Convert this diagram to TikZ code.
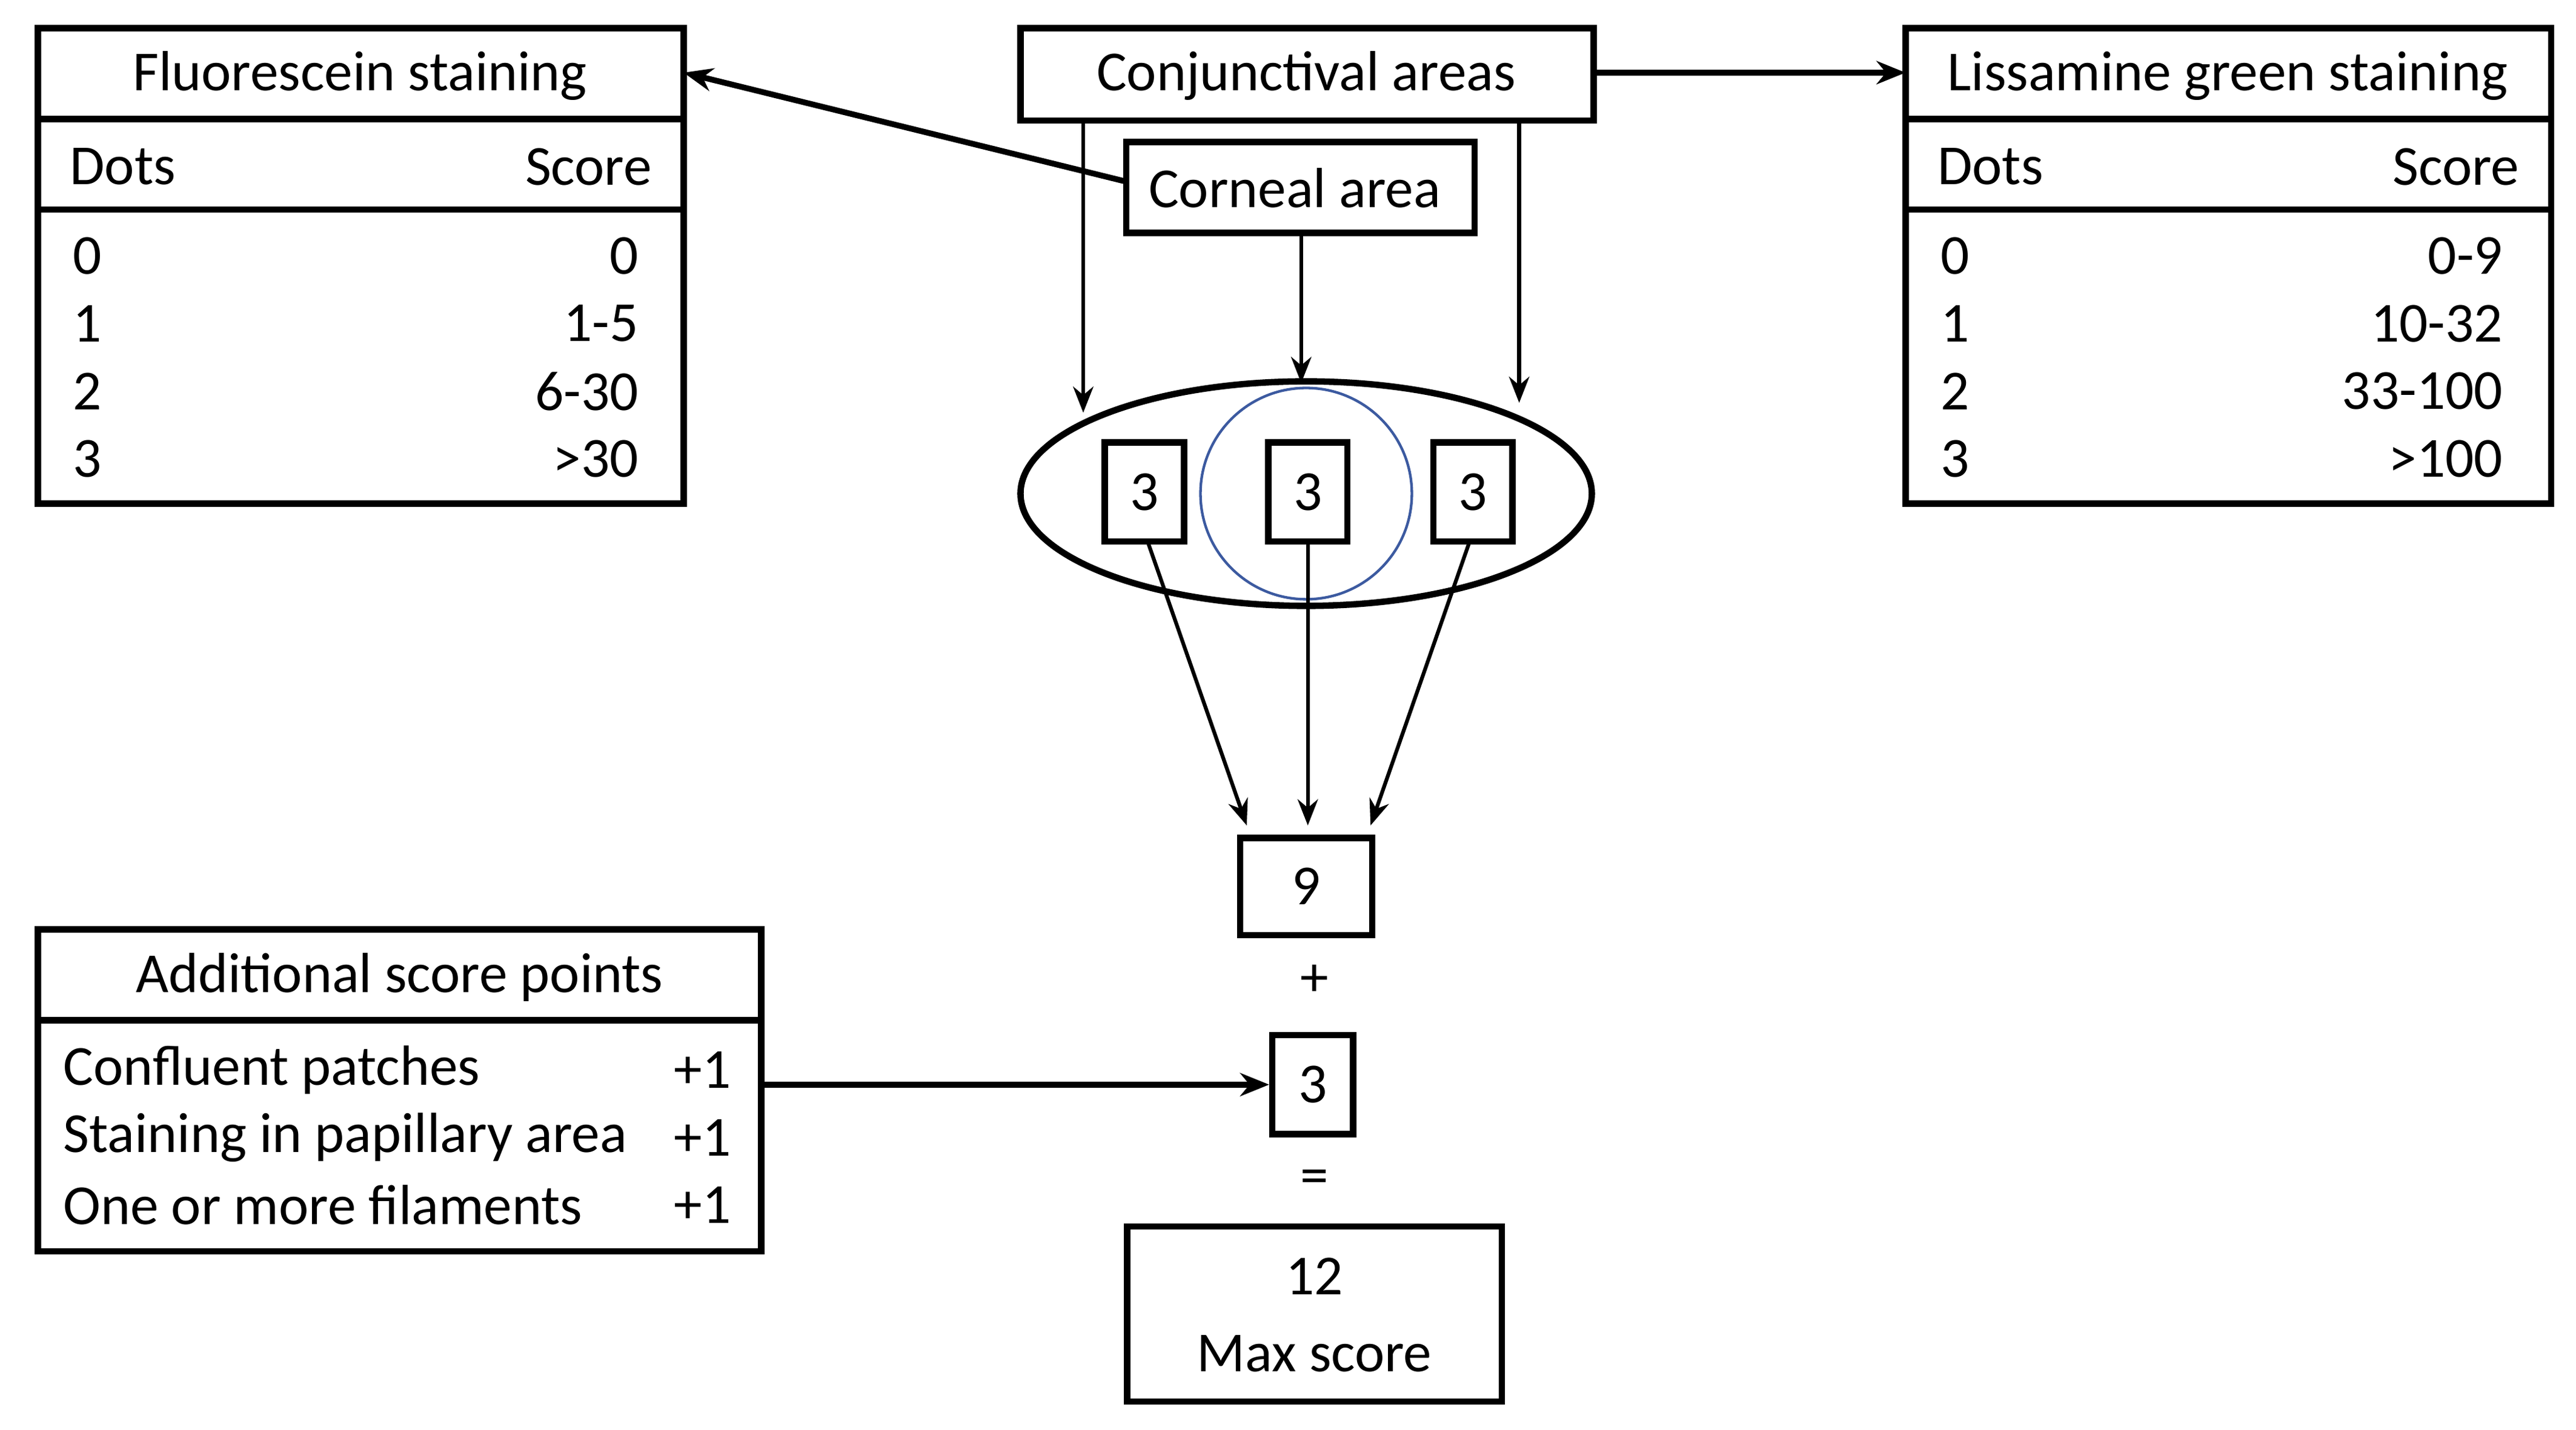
\documentclass[tikz,border=0pt]{standalone}
\usepackage{fontspec}
\setmainfont{Carlito}
\usetikzlibrary{arrows.meta}
\begin{document}
\begin{tikzpicture}[x=0.02cm,y=-0.02cm,
  box/.style={draw,line width=2.2pt},
  t/.style={font=\fontsize{19.5}{22}\selectfont,inner sep=0pt},
  arr/.style={line width=1.3pt,-{Stealth[length=9pt,width=7pt]}},
  arrt/.style={line width=2pt,-{Stealth[length=10pt,width=8pt]}}]
\useasboundingbox (0,0) rectangle (1560,866);
% Fluorescein table
\draw[box] (23,17) rectangle (414,305);
\draw[box] (23,72) -- (414,72) (23,127) -- (414,127);
\coordinate (fl) at (414,44);
\node[t] (fh) at (218,46) {Fluorescein staining};
\node[t,anchor=west] (fd) at (42,101) {Dots};
\node[t,anchor=east] (fs) at (395,101) {Score};
\foreach \d/\s/\y in {0/0/155,1/1-5/196,2/6-30/237,3/>30/278}{
  \node[t,anchor=west] at (44,\y) {\d};
  \node[t,anchor=east] at (387,\y) {\s};}
% Lissamine table
\draw[box] (1154,17) rectangle (1545,305);
\draw[box] (1154,72) -- (1545,72) (1154,127) -- (1545,127);
\coordinate (ll) at (1154,44);
\node[t] (lh) at (1349,46) {Lissamine green staining};
\node[t,anchor=west] at (1173,101) {Dots};
\node[t,anchor=east] at (1526,101) {Score};
\foreach \d/\s/\y in {0/0-9/155,1/10-32/196,2/33-100/237,3/>100/278}{
  \node[t,anchor=west] at (1175,\y) {\d};
  \node[t,anchor=east] at (1516,\y) {\s};}
% Conjunctival, corneal
\draw[box] (618,17) rectangle (965,73);
\node[t] (ca) at (791,46) {Conjunctival areas};
\draw[box,fill=white] (682,86) rectangle (893,141);
\node[t] (co) at (784,114) {Corneal area};
\coordinate (caR) at (965,44);
\coordinate (coL) at (682,110);
% ellipse
\draw[line width=2.2pt] (791,299) ellipse (173 and 68);
\draw[color={rgb,255:red,60;green,90;blue,160},line width=0.9pt] (791,299) circle (64);
\node[t,box,minimum width=0.96cm,minimum height=1.2cm] (b1) at (693,298) {3};
\node[t,box,minimum width=0.96cm,minimum height=1.2cm] (b2) at (792,298) {3};
\node[t,box,minimum width=0.96cm,minimum height=1.2cm] (b3) at (892,298) {3};
% arrows top
\coordinate (cl1) at (656,73); \coordinate (cl2) at (656,250);
\coordinate (cr1) at (920,73); \coordinate (cr2) at (920,244);
\coordinate (co1) at (788,141); \coordinate (co2) at (788,232);
\draw[arr] (cl1) -- (cl2);
\draw[arr] (cr1) -- (cr2);
\draw[arr] (co1) -- (co2);
\draw[arrt] (coL) -- (fl);
\draw[arrt] (caR) -- (ll);
% 9 box
\node[t,box,minimum width=1.6cm,minimum height=1.18cm] (n9) at (791,537) {9};
\coordinate (a1) at (695,328); \coordinate (a1e) at (755,500);
\coordinate (a2) at (792,328); \coordinate (a2e) at (792,500);
\coordinate (a3) at (890,328); \coordinate (a3e) at (830,500);
\draw[arr] (a1) -- (a1e);
\draw[arr] (a2) -- (a2e);
\draw[arr] (a3) -- (a3e);
\node[t] (plus) at (796,594) {+};
\node[t,box,minimum width=0.98cm,minimum height=1.2cm] (n3) at (795,657) {3};
\node[t] (eq) at (796,716) {=};
\node[box,minimum width=4.54cm,minimum height=2.12cm] (mx) at (796,796) {};
\node[t] (m12) at (796,773) {12};
\node[t] (mms) at (796,820) {Max score};
% additional
\draw[box] (23,563) rectangle (461,758);
\draw[box] (23,618) -- (461,618);
\node[t] (ah) at (242,592) {Additional score points};
\foreach \s/\y in {Confluent patches/648,Staining in papillary area/689,One or more filaments/730}{
  \node[t,anchor=west] at (38,\y) {\s};
  \node[t,anchor=east] at (443,\y) {+1};}
\coordinate (aR) at (461,657);
\draw[arrt] (aR) -- (n3.west);
\end{tikzpicture}
\end{document}
